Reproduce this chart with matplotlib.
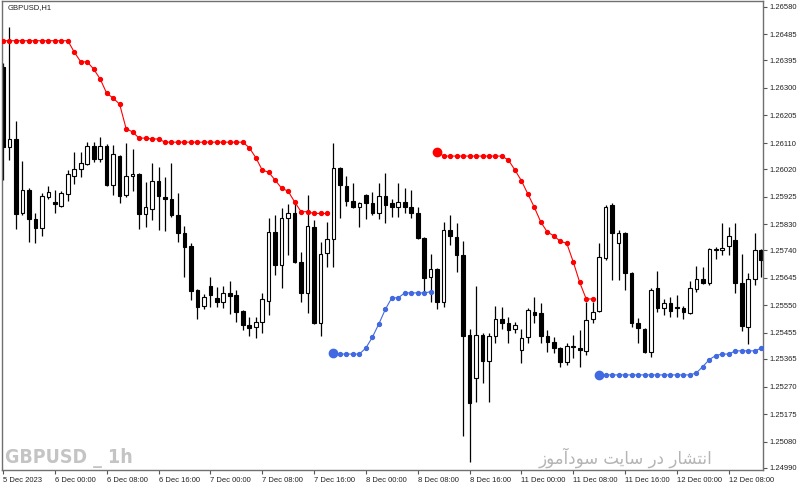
import numpy as np
import pandas as pd
import matplotlib
matplotlib.use("Agg")
import matplotlib.pyplot as plt

plt.rcParams['font.family'] = ['Liberation Sans', 'DejaVu Sans']

symbol = "GBPUSD,H1"
watermark = "GBPUSD _ 1h"
watermark_fa = "انتشار در سایت سودآموز"

# GBPUSD H1 candles, 5 Dec 16:00 -> 12 Dec 13:00
opens = [1.26372, 1.26096, 1.26124, 1.25868, 1.25948, 1.25848, 1.25817, 1.25924, 1.25906, 1.25892,
         1.25934, 1.25996, 1.26020, 1.26037, 1.26099, 1.26055, 1.26099, 1.25965, 1.26065, 1.25930,
         1.25996, 1.26003, 1.25865, 1.25882, 1.25979, 1.25924, 1.25917, 1.25861, 1.25799, 1.25755,
         1.25603, 1.25548, 1.25617, 1.25575, 1.25561, 1.25592, 1.25586, 1.25530, 1.25482, 1.25475,
         1.25492, 1.25565, 1.25803, 1.25689, 1.25851, 1.25868, 1.25699, 1.25592, 1.25820, 1.25489,
         1.25730, 1.25779, 1.26024, 1.25962, 1.25910, 1.25889, 1.25930, 1.25903, 1.25868, 1.25927,
         1.25903, 1.25889, 1.25906, 1.25889, 1.25868, 1.25782, 1.25648, 1.25675, 1.25561, 1.25810,
         1.25786, 1.25724, 1.25448, 1.25299, 1.25448, 1.25358, 1.25444, 1.25503, 1.25489, 1.25468,
         1.25396, 1.25441, 1.25527, 1.25523, 1.25444, 1.25423, 1.25403, 1.25355, 1.25406, 1.25403,
         1.25392, 1.25503, 1.25530, 1.25713, 1.25896, 1.25765, 1.25799, 1.25661, 1.25489, 1.25468,
         1.25389, 1.25610, 1.25541, 1.25558, 1.25544, 1.25541, 1.25523, 1.25606, 1.25641, 1.25627,
         1.25741, 1.25741, 1.25755, 1.25775, 1.25627, 1.25475, 1.25641, 1.25741]
highs = [1.26385, 1.26510, 1.26186, 1.26048, 1.25955, 1.25868, 1.25937, 1.25962, 1.25948, 1.25944,
         1.26017, 1.26079, 1.26079, 1.26113, 1.26113, 1.26130, 1.26106, 1.26103, 1.26068, 1.26110,
         1.26089, 1.26006, 1.25975, 1.26041, 1.26027, 1.25993, 1.26041, 1.25937, 1.25824, 1.25765,
         1.25606, 1.25589, 1.25648, 1.25613, 1.25617, 1.25634, 1.25603, 1.25534, 1.25510, 1.25510,
         1.25592, 1.25851, 1.25861, 1.25886, 1.25899, 1.25899, 1.25734, 1.25930, 1.25844, 1.25768,
         1.25837, 1.26110, 1.26027, 1.25996, 1.25972, 1.25906, 1.25934, 1.25941, 1.25972, 1.26006,
         1.25917, 1.25972, 1.25955, 1.25948, 1.25889, 1.25786, 1.25727, 1.25679, 1.25837, 1.25861,
         1.25834, 1.25772, 1.25468, 1.25617, 1.25455, 1.25455, 1.25548, 1.25544, 1.25510, 1.25492,
         1.25468, 1.25541, 1.25579, 1.25558, 1.25465, 1.25441, 1.25406, 1.25420, 1.25448, 1.25465,
         1.25561, 1.25561, 1.25765, 1.25896, 1.25903, 1.25810, 1.25803, 1.25665, 1.25506, 1.25472,
         1.25610, 1.25668, 1.25572, 1.25579, 1.25586, 1.25548, 1.25634, 1.25686, 1.25682, 1.25748,
         1.25751, 1.25834, 1.25820, 1.25834, 1.25727, 1.25661, 1.25799, 1.25744]
lows = [1.25982, 1.26051, 1.25813, 1.25861, 1.25768, 1.25765, 1.25789, 1.25917, 1.25868, 1.25889,
        1.25910, 1.25968, 1.25993, 1.26034, 1.26044, 1.26044, 1.25962, 1.25930, 1.25903, 1.25924,
        1.25944, 1.25813, 1.25820, 1.25844, 1.25810, 1.25806, 1.25855, 1.25768, 1.25648, 1.25568,
        1.25503, 1.25537, 1.25544, 1.25544, 1.25541, 1.25520, 1.25492, 1.25465, 1.25444, 1.25437,
        1.25454, 1.25517, 1.25655, 1.25610, 1.25724, 1.25696, 1.25561, 1.25523, 1.25486, 1.25444,
        1.25682, 1.25682, 1.25851, 1.25892, 1.25886, 1.25820, 1.25848, 1.25861, 1.25848, 1.25834,
        1.25855, 1.25855, 1.25868, 1.25851, 1.25779, 1.25592, 1.25561, 1.25537, 1.25544, 1.25758,
        1.25665, 1.25099, 1.25010, 1.25216, 1.25282, 1.25216, 1.25420, 1.25468, 1.25420, 1.25454,
        1.25351, 1.25420, 1.25489, 1.25420, 1.25389, 1.25386, 1.25337, 1.25344, 1.25368, 1.25337,
        1.25379, 1.25489, 1.25527, 1.25706, 1.25637, 1.25637, 1.25603, 1.25475, 1.25420, 1.25386,
        1.25372, 1.25527, 1.25517, 1.25510, 1.25510, 1.25503, 1.25520, 1.25596, 1.25624, 1.25620,
        1.25710, 1.25724, 1.25724, 1.25592, 1.25461, 1.25417, 1.25620, 1.25648]
closes = [1.26096, 1.26124, 1.25865, 1.25948, 1.25848, 1.25817, 1.25927, 1.25941, 1.25899, 1.25937,
          1.26003, 1.26020, 1.26041, 1.26099, 1.26055, 1.26099, 1.25965, 1.26072, 1.25927, 1.25996,
          1.26003, 1.25865, 1.25889, 1.25979, 1.25927, 1.25917, 1.25861, 1.25799, 1.25751, 1.25599,
          1.25544, 1.25579, 1.25586, 1.25561, 1.25592, 1.25582, 1.25527, 1.25482, 1.25472, 1.25492,
          1.25572, 1.25803, 1.25689, 1.25851, 1.25868, 1.25699, 1.25592, 1.25824, 1.25489, 1.25727,
          1.25779, 1.26024, 1.25965, 1.25910, 1.25889, 1.25903, 1.25903, 1.25868, 1.25927, 1.25896,
          1.25889, 1.25906, 1.25889, 1.25868, 1.25782, 1.25644, 1.25675, 1.25561, 1.25810, 1.25789,
          1.25724, 1.25444, 1.25213, 1.25448, 1.25358, 1.25444, 1.25503, 1.25489, 1.25465, 1.25482,
          1.25437, 1.25534, 1.25517, 1.25444, 1.25423, 1.25403, 1.25355, 1.25410, 1.25410, 1.25396,
          1.25499, 1.25527, 1.25717, 1.25889, 1.25799, 1.25799, 1.25661, 1.25489, 1.25472, 1.25389,
          1.25603, 1.25541, 1.25558, 1.25530, 1.25541, 1.25527, 1.25610, 1.25641, 1.25627, 1.25744,
          1.25744, 1.25748, 1.25789, 1.25627, 1.25479, 1.25641, 1.25741, 1.25706]

# trailing stop dots: first bar index + values
red_1_start = 0
red_1 = ([1.26463] * 11 + [1.26424, 1.26390, 1.26390, 1.26365, 1.26331, 1.26282, 1.26265, 1.26244,
         1.26160, 1.26148, 1.26127, 1.26127, 1.26124, 1.26124] + [1.26113] * 13 +
         [1.26094, 1.26060, 1.26017, 1.26009, 1.25982, 1.25954, 1.25944, 1.25907, 1.25873, 1.25873,
          1.25867, 1.25867, 1.25867])
red_2_start = 67
red_2 = ([1.26080] + [1.26065] * 10 + [1.26051, 1.26017, 1.25980, 1.25934, 1.25888, 1.25837, 1.25803,
         1.25790, 1.25771, 1.25764, 1.25700, 1.25629, 1.25572, 1.25572])
blue_1_start = 51
blue_1 = [1.25386, 1.25382, 1.25382, 1.25382, 1.25382, 1.25403, 1.25440, 1.25486, 1.25536, 1.25576,
          1.25576, 1.25593, 1.25593, 1.25593, 1.25593, 1.25597]
blue_2_start = 92
blue_2 = ([1.25310] * 15 + [1.25317, 1.25339, 1.25363, 1.25377, 1.25382, 1.25382] + [1.25393] * 4 +
          [1.25402])

price_ticks = [1.24990, 1.25080, 1.25175, 1.25270, 1.25365, 1.25455, 1.25550, 1.25645, 1.25740,
               1.25830, 1.25925, 1.26020, 1.26110, 1.26205, 1.26300, 1.26395, 1.26485, 1.26580]

# hourly bars, weekend skipped
times = pd.date_range("2023-12-05 16:00", "2023-12-12 13:00", freq="h")
times = times[times.dayofweek < 5]

# presentation forms so the persian text shows joined, right to left
FORMS = {
    'ا': ('\ufe8d', '\ufe8e'), 'آ': ('\ufe81', '\ufe82'), 'ر': ('\ufead', '\ufeae'),
    'ز': ('\ufeaf', '\ufeb0'), 'د': ('\ufea9', '\ufeaa'), 'و': ('\ufeed', '\ufeee'),
    'ن': ('\ufee5', '\ufee6', '\ufee7', '\ufee8'), 'ت': ('\ufe95', '\ufe96', '\ufe97', '\ufe98'),
    'ش': ('\ufeb5', '\ufeb6', '\ufeb7', '\ufeb8'), 'س': ('\ufeb1', '\ufeb2', '\ufeb3', '\ufeb4'),
    'ی': ('\ufbfc', '\ufbfd', '\ufbfe', '\ufbff'), 'م': ('\ufee1', '\ufee2', '\ufee3', '\ufee4'),
}


def shape_fa(text):
    out = []
    for i, ch in enumerate(text):
        if ch not in FORMS:
            out.append(ch)
            continue
        prev = text[i - 1] if i > 0 else ' '
        nxt = text[i + 1] if i + 1 < len(text) else ' '
        join_prev = prev in FORMS and len(FORMS[prev]) == 4
        join_next = len(FORMS[ch]) == 4 and nxt in FORMS
        if join_prev and join_next:
            out.append(FORMS[ch][3])
        elif join_prev:
            out.append(FORMS[ch][1])
        elif join_next:
            out.append(FORMS[ch][2])
        else:
            out.append(FORMS[ch][0])
    return ''.join(out)[::-1]


o = np.array(opens)
h = np.array(highs)
l = np.array(lows)
c = np.array(closes)
x = np.arange(len(o))
up = c >= o

fig = plt.figure(figsize=(8, 4.9), dpi=100)
ax = fig.add_axes([2 / 800, 20 / 490, 761 / 800, 469 / 490])

ax.vlines(x, l, h, color='black', lw=0.9, zorder=1)
ax.bar(x, np.abs(c - o), bottom=np.minimum(o, c), width=0.56,
       color=np.where(up, 'white', 'black'), edgecolor='black', lw=0.8, zorder=2)

for start, vals, col, big in [(red_1_start, red_1, '#ff0000', False),
                              (red_2_start, red_2, '#ff0000', True),
                              (blue_1_start, blue_1, '#4169e1', True),
                              (blue_2_start, blue_2, '#4169e1', True)]:
    xs = np.arange(start, start + len(vals))
    ax.plot(xs, vals, '-o', color=col, lw=0.8, ms=2.8, zorder=3)
    if big:
        ax.plot(xs[0], vals[0], 'o', color=col, ms=6, zorder=4)

ax.set_xlim(-0.15, 117.28)
ax.set_ylim(1.24982, 1.26600)

ax.yaxis.tick_right()
ax.set_yticks(price_ticks)
ax.set_yticklabels([f"{v:.5f}" for v in price_ticks])

tick_pos = list(range(0, len(times), 8))
tick_lab = []
for i in tick_pos:
    t = times[i]
    if i == 0:
        tick_lab.append(f"{t.day} {t:%b %Y}")
    else:
        tick_lab.append(f"{t.day} {t:%b %H:%M}")
ax.set_xticks(tick_pos)
ax.set_xticklabels(tick_lab)
for lab in ax.get_xticklabels():
    lab.set_ha('left')

ax.tick_params(axis='both', direction='out', length=3, width=0.8, color='#555555',
               labelsize=5.5, labelcolor='#222222', pad=2)
for s in ax.spines.values():
    s.set_color('#707070')
    s.set_linewidth(1)

fig.text(8 / 800, 1 - 8 / 490, symbol, fontsize=5.5, color='#222222', va='center', ha='left')
fig.text(5 / 800, 1 - 458 / 490, watermark, fontsize=14, fontweight='bold', fontstretch='condensed',
         color='#c4c4c4', family=['DejaVu Sans'], va='center', ha='left')
fig.text(712 / 800, 1 - 458 / 490, shape_fa(watermark_fa), fontsize=12, color='#b4b4b4',
         family=['DejaVu Sans'], va='center', ha='right')

fig.savefig('out.png', dpi=100)
